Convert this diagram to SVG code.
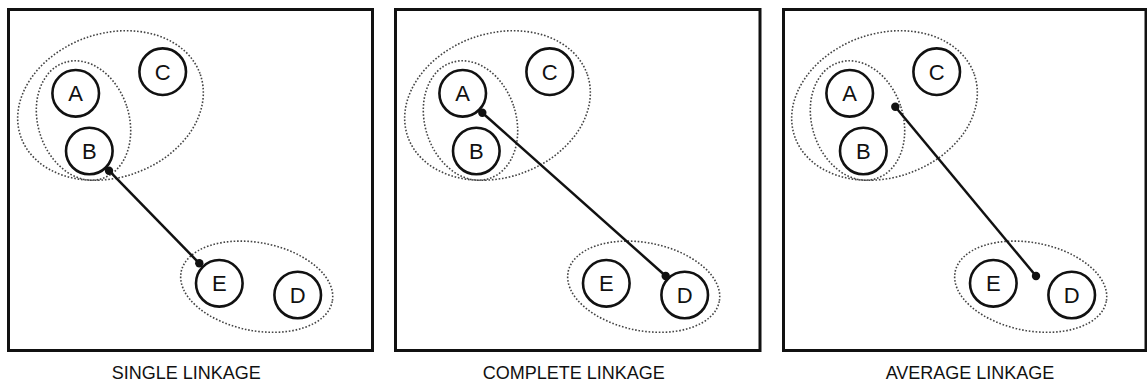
<svg xmlns="http://www.w3.org/2000/svg" width="1147" height="383" viewBox="0 0 1147 383">
<style>
.frame{fill:none;stroke:#111;stroke-width:3}
.node circle{fill:#fff;stroke:#111;stroke-width:2.6}
.node text{font-family:"Liberation Sans",Arial,sans-serif;font-size:22px;fill:#111;text-anchor:middle}
.clu{fill:none;stroke:#444;stroke-width:1.6;stroke-dasharray:1.6 1.8}
.link{stroke:#111;stroke-width:2.5;fill:none}
.dot{fill:#111}
.cap{font-family:"Liberation Sans",Arial,sans-serif;font-size:18px;fill:#111;text-anchor:middle}
</style>
<defs>
<g id="clusters">
<ellipse class="clu" cx="110.5" cy="105.5" rx="95" ry="72" transform="rotate(-19 110.5 105.5)"/>
<ellipse class="clu" cx="83.5" cy="120.5" rx="45.5" ry="61" transform="rotate(-18 83.5 120.5)"/>
<ellipse class="clu" cx="256.7" cy="286.7" rx="77" ry="44" transform="rotate(11 256.7 286.7)"/>
</g>
</defs>

<!-- Panel 1: single linkage -->
<g id="panel1">
<rect class="frame" x="8.5" y="9.5" width="364" height="341"/>
<use href="#clusters"/>
<g id="p1-C" class="node"><circle cx="162.7" cy="71.7" r="23.3"/><text x="162.7" y="79.6">C</text></g>
<g id="p1-A" class="node"><circle cx="75.7" cy="93.3" r="23.3"/><text x="75.7" y="101.2">A</text></g>
<g id="p1-B" class="node"><circle cx="89.3" cy="151" r="23.3"/><text x="89.3" y="158.9">B</text></g>
<g id="p1-E" class="node"><circle cx="219.3" cy="283.3" r="23.3"/><text x="219.3" y="291.2">E</text></g>
<g id="p1-D" class="node"><circle cx="297.7" cy="295" r="23.3"/><text x="297.7" y="302.9">D</text></g>
<g id="p1-connectors">
<line class="link" x1="109" y1="170.7" x2="199.3" y2="263.3"/>
<circle class="dot" cx="109" cy="170.7" r="4.2"/>
<circle class="dot" cx="199.3" cy="263.3" r="4.2"/>
</g>
<text class="cap" x="186.3" y="379.3">SINGLE LINKAGE</text>
</g>

<!-- Panel 2: complete linkage -->
<g id="panel2">
<rect class="frame" x="395.5" y="9.5" width="364.5" height="341"/>
<use href="#clusters" transform="translate(387 0)"/>
<g id="p2-C" class="node"><circle cx="549.7" cy="71.7" r="23.3"/><text x="549.7" y="79.6">C</text></g>
<g id="p2-A" class="node"><circle cx="462.7" cy="93.3" r="23.3"/><text x="462.7" y="101.2">A</text></g>
<g id="p2-B" class="node"><circle cx="476.3" cy="151" r="23.3"/><text x="476.3" y="158.9">B</text></g>
<g id="p2-E" class="node"><circle cx="606.3" cy="283.3" r="23.3"/><text x="606.3" y="291.2">E</text></g>
<g id="p2-D" class="node"><circle cx="684.7" cy="295" r="23.3"/><text x="684.7" y="302.9">D</text></g>
<g id="p2-connectors">
<line class="link" x1="482.3" y1="112.7" x2="665.7" y2="276"/>
<circle class="dot" cx="482.3" cy="112.7" r="4.2"/>
<circle class="dot" cx="665.7" cy="276" r="4.2"/>
</g>
<text class="cap" x="573.8" y="379.3">COMPLETE LINKAGE</text>
</g>

<!-- Panel 3: average linkage -->
<g id="panel3">
<rect class="frame" x="783.5" y="9.5" width="362.5" height="341"/>
<use href="#clusters" transform="translate(774 0)"/>
<g id="p3-C" class="node"><circle cx="936.7" cy="71.7" r="23.3"/><text x="936.7" y="79.6">C</text></g>
<g id="p3-A" class="node"><circle cx="849.7" cy="93.3" r="23.3"/><text x="849.7" y="101.2">A</text></g>
<g id="p3-B" class="node"><circle cx="863.3" cy="151" r="23.3"/><text x="863.3" y="158.9">B</text></g>
<g id="p3-E" class="node"><circle cx="993.3" cy="283.3" r="23.3"/><text x="993.3" y="291.2">E</text></g>
<g id="p3-D" class="node"><circle cx="1071.7" cy="295" r="23.3"/><text x="1071.7" y="302.9">D</text></g>
<g id="p3-connectors">
<line class="link" x1="895.3" y1="106.7" x2="1036" y2="276"/>
<circle class="dot" cx="895.3" cy="106.7" r="4.2"/>
<circle class="dot" cx="1036" cy="276" r="4.2"/>
</g>
<text class="cap" x="970" y="379.3">AVERAGE LINKAGE</text>
</g>
</svg>
